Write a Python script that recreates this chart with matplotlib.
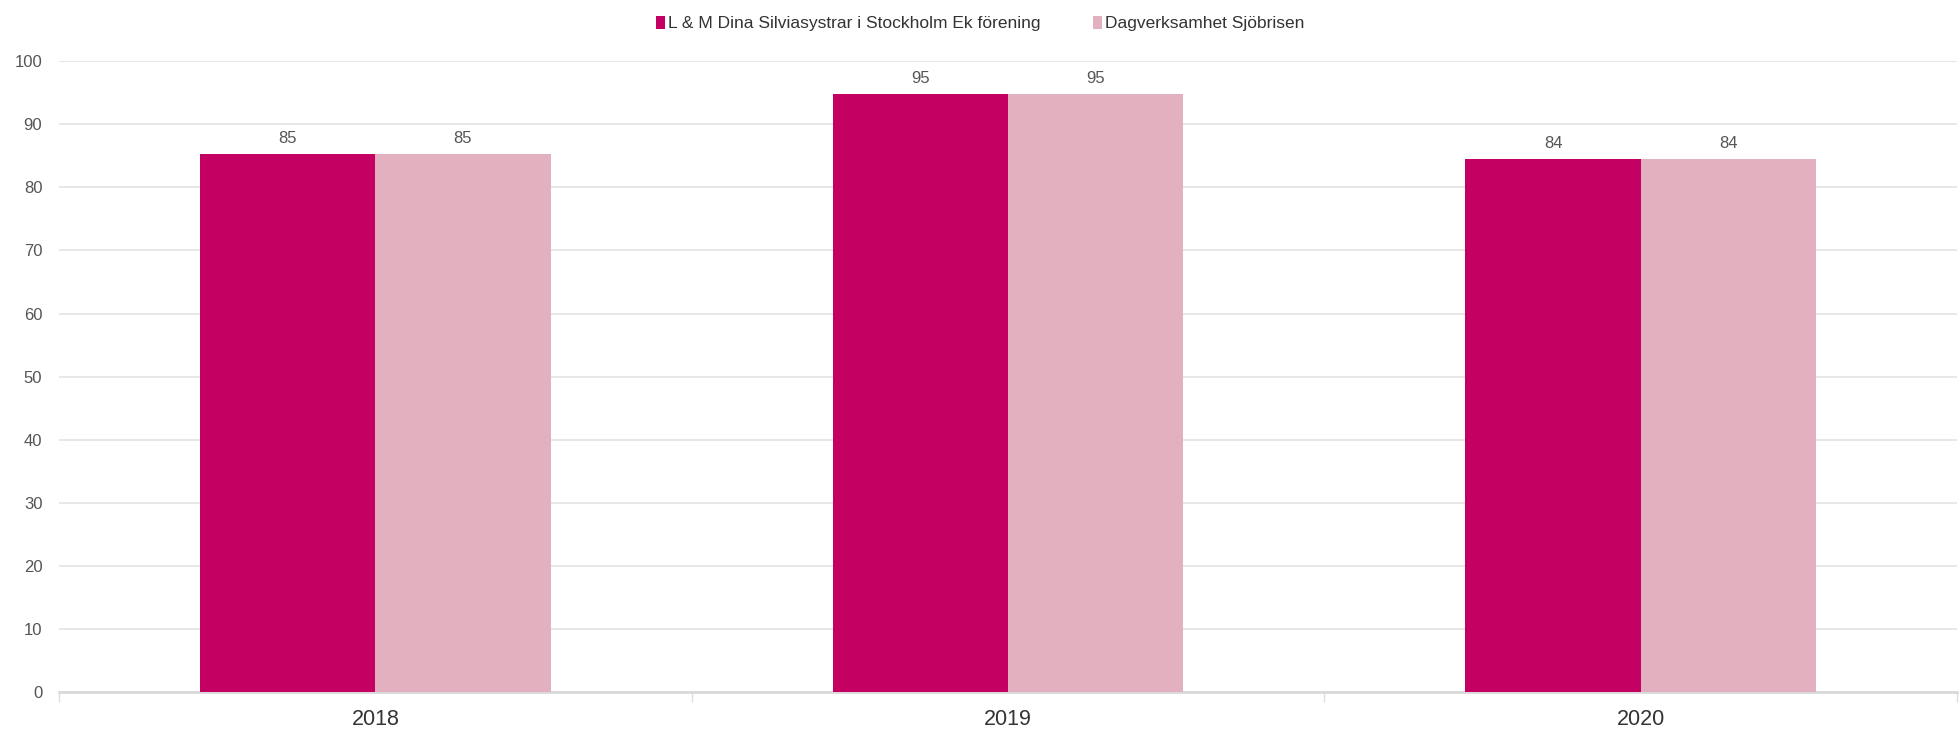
import numpy as np
import matplotlib.pyplot as plt
from matplotlib.patches import Patch

plt.rcParams['font.family'] = ['Liberation Sans', 'DejaVu Sans']

years = ['2018', '2019', '2020']
series_names = ['L & M Dina Silviasystrar i Stockholm Ek förening', 'Dagverksamhet Sjöbrisen']
values_a = [85.3, 94.7, 84.4]
values_b = [85.3, 94.7, 84.4]
colors = ['#C40062', '#E3B0C0']

fig = plt.figure(figsize=(19.6, 7.31), dpi=100)
ax = fig.add_axes([0.0301, 0.0527, 0.9684, 0.8639])

x = np.arange(len(years))
w = 0.277
for vals, off, col in [(values_a, -w / 2, colors[0]), (values_b, w / 2, colors[1])]:
    bars = ax.bar(x + off, vals, width=w, color=col, edgecolor='none', zorder=3)
    for b, v in zip(bars, vals):
        ax.text(b.get_x() + b.get_width() / 2, v + 1.3, f'{v:.0f}', ha='center', va='bottom',
                fontsize=12, color='#555555')

ax.set_xlim(-0.5, len(years) - 0.5)
ax.set_ylim(0, 100)
ax.set_yticks(np.arange(0, 101, 10))
ax.yaxis.grid(True, color='#E3E3E3', linewidth=1.2, zorder=0)
ax.tick_params(axis='y', length=0, labelsize=12, labelcolor='#555555', pad=12)
ax.set_xticks(x)
ax.set_xticklabels(years)
ax.tick_params(axis='x', length=0, labelsize=15.5, labelcolor='#333333', pad=12)
ax.set_xticks(np.arange(-0.5, len(years)), minor=True)
ax.tick_params(axis='x', which='minor', length=7, width=1, color='#DDDDDD')
for s in ['top', 'right', 'left']:
    ax.spines[s].set_visible(False)
ax.spines['bottom'].set_color('#D9D9D9')
ax.spines['bottom'].set_linewidth(2)

handles = [Patch(facecolor=c, edgecolor='none') for c in colors]
fig.legend(handles, series_names, loc='upper center', bbox_to_anchor=(0.5, 1.0), ncol=2,
           frameon=False, fontsize=12.5, handlelength=0.55, handleheight=0.8, handletextpad=0.15,
           columnspacing=3.0, labelcolor='#333333')

fig.savefig('out.png', dpi=100)
